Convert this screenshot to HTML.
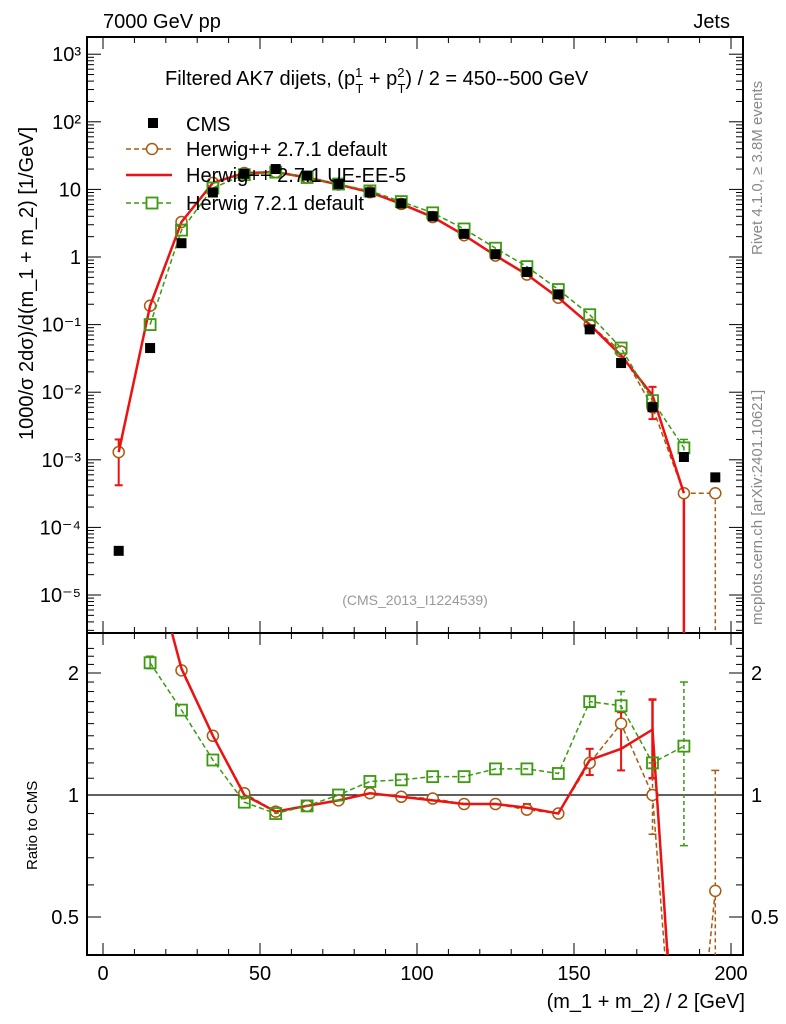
<!DOCTYPE html>
<html><head><meta charset="utf-8"><style>
html,body{margin:0;padding:0;background:#fff;width:786px;height:1024px;overflow:hidden}
svg{display:block}
svg text{font-family:"Liberation Sans",sans-serif}
</style></head><body>
<svg id="c" width="786" height="1024" viewBox="0 0 786 1024" xmlns="http://www.w3.org/2000/svg"></svg>
<script>
const xCenters=[5,15,25,35,45,55,65,75,85,95,105,115,125,135,145,155,165,175,185,195];
const cmsVals=[4.5e-5,0.045,1.6,9,17,20,16,12,9,6.2,4,2.2,1.1,0.6,0.28,0.085,0.027,0.006,0.0011,0.00055];
const hppVals=[1.3e-3,0.19,3.3,12.5,17.5,18,15,11.8,9.1,6.1,3.9,2.1,1.05,0.55,0.25,0.1,0.04,0.006,3.2e-4,3.2e-4];
const ueVals=[1.3e-3,0.19,3.3,12.5,17.5,18,15,11.8,9.1,6.1,3.9,2.1,1.05,0.55,0.25,0.1,0.035,0.009,3.2e-4,null];
const h7Vals=[null,0.1,2.5,10.5,16.5,18,15,12,9.5,6.6,4.5,2.6,1.35,0.72,0.33,0.14,0.045,0.0075,0.0015,null];
const hppRatio=[null,null,2.03,1.4,1.01,0.91,0.94,0.97,1.01,0.99,0.98,0.95,0.95,0.92,0.9,1.2,1.5,1.0,0.1,0.58];
const ueRatio=[null,4.0,2.05,1.4,1.0,0.91,0.94,0.97,1.01,0.99,0.97,0.95,0.95,0.93,0.9,1.22,1.3,1.45,0.1,null];
const h7Ratio=[null,2.12,1.62,1.22,0.96,0.9,0.94,1.0,1.08,1.09,1.11,1.11,1.16,1.16,1.13,1.7,1.66,1.2,1.32,null];
const xTicks=[0,50,100,150,200];
const yDecades=[-5,-4,-3,-2,-1,0,1,2,3];
const yLabels=["10\u207B\u2075","10\u207B\u2074","10\u207B\u00B3","10\u207B\u00B2","10\u207B\u00B9","1","10","10\u00B2","10\u00B3"];
const rTicks=[0.5,1,2];

const S=document.getElementById('c'),NS='http://www.w3.org/2000/svg';
const L=87,R=743,T=37,M=633,B=955;
const X=v=>103+v*3.14;
const Y=v=>257-Math.log10(v)*67.6;
const RY=v=>795-Math.log2(v)*122;
function el(t,a,p){const e=document.createElementNS(NS,t);for(const k in a)e.setAttribute(k,a[k]);(p||S).appendChild(e);return e;}
function txt(x,y,s,o,p){const e=el('text',Object.assign({x:x,y:y,'font-size':20,fill:'#000'},o||{}),p);e.textContent=s;return e;}
const clipM=el('clipPath',{id:'cm'});el('rect',{x:L,y:T,width:R-L,height:M-T},clipM);
const clipR=el('clipPath',{id:'cr'});el('rect',{x:L,y:M,width:R-L,height:B-M},clipR);

const fm=el('rect',{x:L,y:T,width:R-L,height:M-T,fill:'none',stroke:'#000','stroke-width':2});

const fr=el('rect',{x:L,y:M,width:R-L,height:B-M,fill:'none',stroke:'#000','stroke-width':2});


for(let v=0;v<=205;v+=10){const big=v%50===0;const x=X(v);
 el('line',{x1:x,x2:x,y1:M,y2:M-(big?12:6),stroke:'#000'});
 el('line',{x1:x,x2:x,y1:B,y2:B-(big?12:6),stroke:'#000'});
 el('line',{x1:x,x2:x,y1:T,y2:T+(big?12:6),stroke:'#000'});
 el('line',{x1:x,x2:x,y1:M,y2:M+(big?12:6),stroke:'#000'});}
xTicks.forEach(v=>{const t=txt(X(v),980,String(v),{'text-anchor':'middle'});});
yDecades.forEach((d,i)=>{const y=Y(Math.pow(10,d));
 el('line',{x1:L,x2:L+14,y1:y,y2:y,stroke:'#000'});el('line',{x1:R,x2:R-14,y1:y,y2:y,stroke:'#000'});
 const t=txt(L-6,y+7,yLabels[i],{'text-anchor':'end'});
 for(let m=2;m<10;m++){const yy=Y(m*Math.pow(10,d));if(yy>T&&yy<M){el('line',{x1:L,x2:L+7,y1:yy,y2:yy,stroke:'#000'});el('line',{x1:R,x2:R-7,y1:yy,y2:yy,stroke:'#000'});}}
 if(d===-5)for(let m=2;m<10;m++){const yy=Y(m*Math.pow(10,d-1));if(yy<M){el('line',{x1:L,x2:L+7,y1:yy,y2:yy,stroke:'#000'});el('line',{x1:R,x2:R-7,y1:yy,y2:yy,stroke:'#000'});}}
});
for(let v=0.4;v<=2.4;v+=0.1){const y=RY(v);if(y>M&&y<B){const big=rTicks.some(r=>Math.abs(r-v)<1e-6);
 el('line',{x1:L,x2:L+(big?14:7),y1:y,y2:y,stroke:'#000'});el('line',{x1:R,x2:R-(big?14:7),y1:y,y2:y,stroke:'#000'});}}
rTicks.forEach(r=>{const y=RY(r);txt(L-8,y+7,String(r),{'text-anchor':'end'});txt(R+8,y+7,String(r));});
el('line',{x1:L,x2:R,y1:RY(1),y2:RY(1),stroke:'#000','stroke-width':1.2});

txt(103,28,'7000 GeV pp',{});
txt(730,28,'Jets',{'text-anchor':'end'});
const tt=txt(165,85,'',{});tt.innerHTML='Filtered AK7 dijets, (p<tspan dy="-8" font-size="13">1</tspan><tspan dx="-7" dy="16" font-size="13">T</tspan><tspan dy="-8"> + p</tspan><tspan dy="-8" font-size="13">2</tspan><tspan dx="-7" dy="16" font-size="13">T</tspan><tspan dy="-8">) / 2 = 450--500 GeV</tspan>';

txt(415,605,'(CMS_2013_I1224539)',{'text-anchor':'middle','font-size':14,fill:'#999'});
txt(745,1008,'(m_1 + m_2) / 2 [GeV]',{'text-anchor':'end'});
const yt=txt(0,0,'1000/\u03C3   2d\u03C3)/d(m_1 + m_2) [1/GeV]',{transform:'translate(33,440) rotate(-90)'});

txt(0,0,'Ratio to CMS',{transform:'translate(37,870) rotate(-90)','font-size':15});
txt(0,0,'Rivet 4.1.0, \u2265 3.8M events',{transform:'translate(762,255) rotate(-90)','font-size':15,fill:'#888'});
txt(0,0,'mcplots.cern.ch [arXiv:2401.10621]',{transform:'translate(762,625) rotate(-90)','font-size':15,fill:'#888'});

function series(vals,fy,clip,color,dash,marker,w){
 const g=el('g',{'clip-path':'url(#'+clip+')'});
 if(w>0){let d='';xCenters.forEach((x,i)=>{const v=vals[i];if(v==null)return;d+=(d?'L':'M')+X(x)+','+fy(v);});
 el('path',{d:d,fill:'none',stroke:color,'stroke-width':w,'stroke-dasharray':dash||'none'},g);}
 xCenters.forEach((x,i)=>{const v=vals[i];if(v==null)return;const cx=X(x),cy=fy(v);
  if(marker==='o')el('circle',{cx:cx,cy:cy,r:5.5,fill:'#fff',stroke:color,'stroke-width':1.5},g);
  if(marker==='s')el('rect',{x:cx-5.5,y:cy-5.5,width:11,height:11,fill:'none',stroke:color,'stroke-width':1.8},g);
  if(marker==='f')el('rect',{x:cx-5,y:cy-5,width:10,height:10,fill:'#000'},g);});
 return g;}
function ebar(clip,x,y1,y2,color,dash,w){const g=el('g',{'clip-path':'url(#'+clip+')'});
 el('line',{x1:X(x),x2:X(x),y1:y1,y2:y2,stroke:color,'stroke-width':w||1.5,'stroke-dasharray':dash||'none'},g);
 el('line',{x1:X(x)-4,x2:X(x)+4,y1:y1,y2:y1,stroke:color,'stroke-width':w||1.5},g);
 el('line',{x1:X(x)-4,x2:X(x)+4,y1:y2,y2:y2,stroke:color,'stroke-width':w||1.5},g);}
const gc='#3a9a10',go='#a85a10',gr='#ee1111';
// error bars main
ebar('cm',5,Y(2e-3),Y(4.2e-4),gr,null,2);
ebar('cm',175,Y(0.012),Y(0.004),gr,null,2);
ebar('cm',185,Y(3.2e-4),M+5,gr,null,2.5);
ebar('cm',195,Y(3.2e-4),M+5,go,'4,3',1.5);
ebar('cm',185,Y(0.002),Y(0.0011),gc,'4,3',1.5);
// error bars ratio
ebar('cr',15,RY(2.2),RY(2.05),gc,null,1.5);
ebar('cr',155,RY(1.75),RY(1.65),gc,'4,3',1.5);
ebar('cr',165,RY(1.8),RY(1.5),gc,'4,3',1.5);
ebar('cr',165,RY(1.6),RY(1.15),gr,null,2);
ebar('cr',155,RY(1.3),RY(1.12),gr,null,2);
ebar('cr',175,RY(1.72),RY(1.1),gr,null,2.5);
ebar('cr',175,RY(1.2),RY(0.8),go,'4,3',1.5);
ebar('cr',185,RY(1.9),RY(0.75),gc,'4,3',1.5);
ebar('cr',195,RY(1.15),B+5,go,'4,3',1.5);
ebar('cr',135,RY(0.95),RY(0.9),gr,null,2);

series(hppVals,Y,'cm',go,'5,3','o',1.5);
series(ueVals,Y,'cm',gr,null,null,2.5);
series(h7Vals,Y,'cm',gc,'5,3','s',1.5);
series(cmsVals,Y,'cm','#000',null,'f',0);
series(hppRatio,RY,'cr',go,'5,3','o',1.5);
series(ueRatio,RY,'cr',gr,null,null,2.5);
series(h7Ratio,RY,'cr',gc,'5,3','s',1.5);

const lg=el('g',{});
el('rect',{x:148,y:118,width:10,height:10,fill:'#000'},lg);txt(186,131,'CMS',{},lg);
el('line',{x1:126,x2:172,y1:149,y2:149,stroke:go,'stroke-dasharray':'5,3','stroke-width':1.5},lg);el('circle',{cx:152,cy:149,r:5.5,fill:'#fff',stroke:go,'stroke-width':1.5},lg);txt(186,156,'Herwig++ 2.7.1 default',{},lg);
el('line',{x1:126,x2:172,y1:175,y2:175,stroke:gr,'stroke-width':2.5},lg);txt(186,182,'Herwig++ 2.7.1 UE-EE-5',{},lg);
el('line',{x1:126,x2:172,y1:203,y2:203,stroke:gc,'stroke-dasharray':'5,3','stroke-width':1.5},lg);el('rect',{x:146.5,y:197.5,width:11,height:11,fill:'#fff',stroke:gc,'stroke-width':1.8},lg);txt(186,210,'Herwig 7.2.1 default',{},lg);
</script>
</body></html>
